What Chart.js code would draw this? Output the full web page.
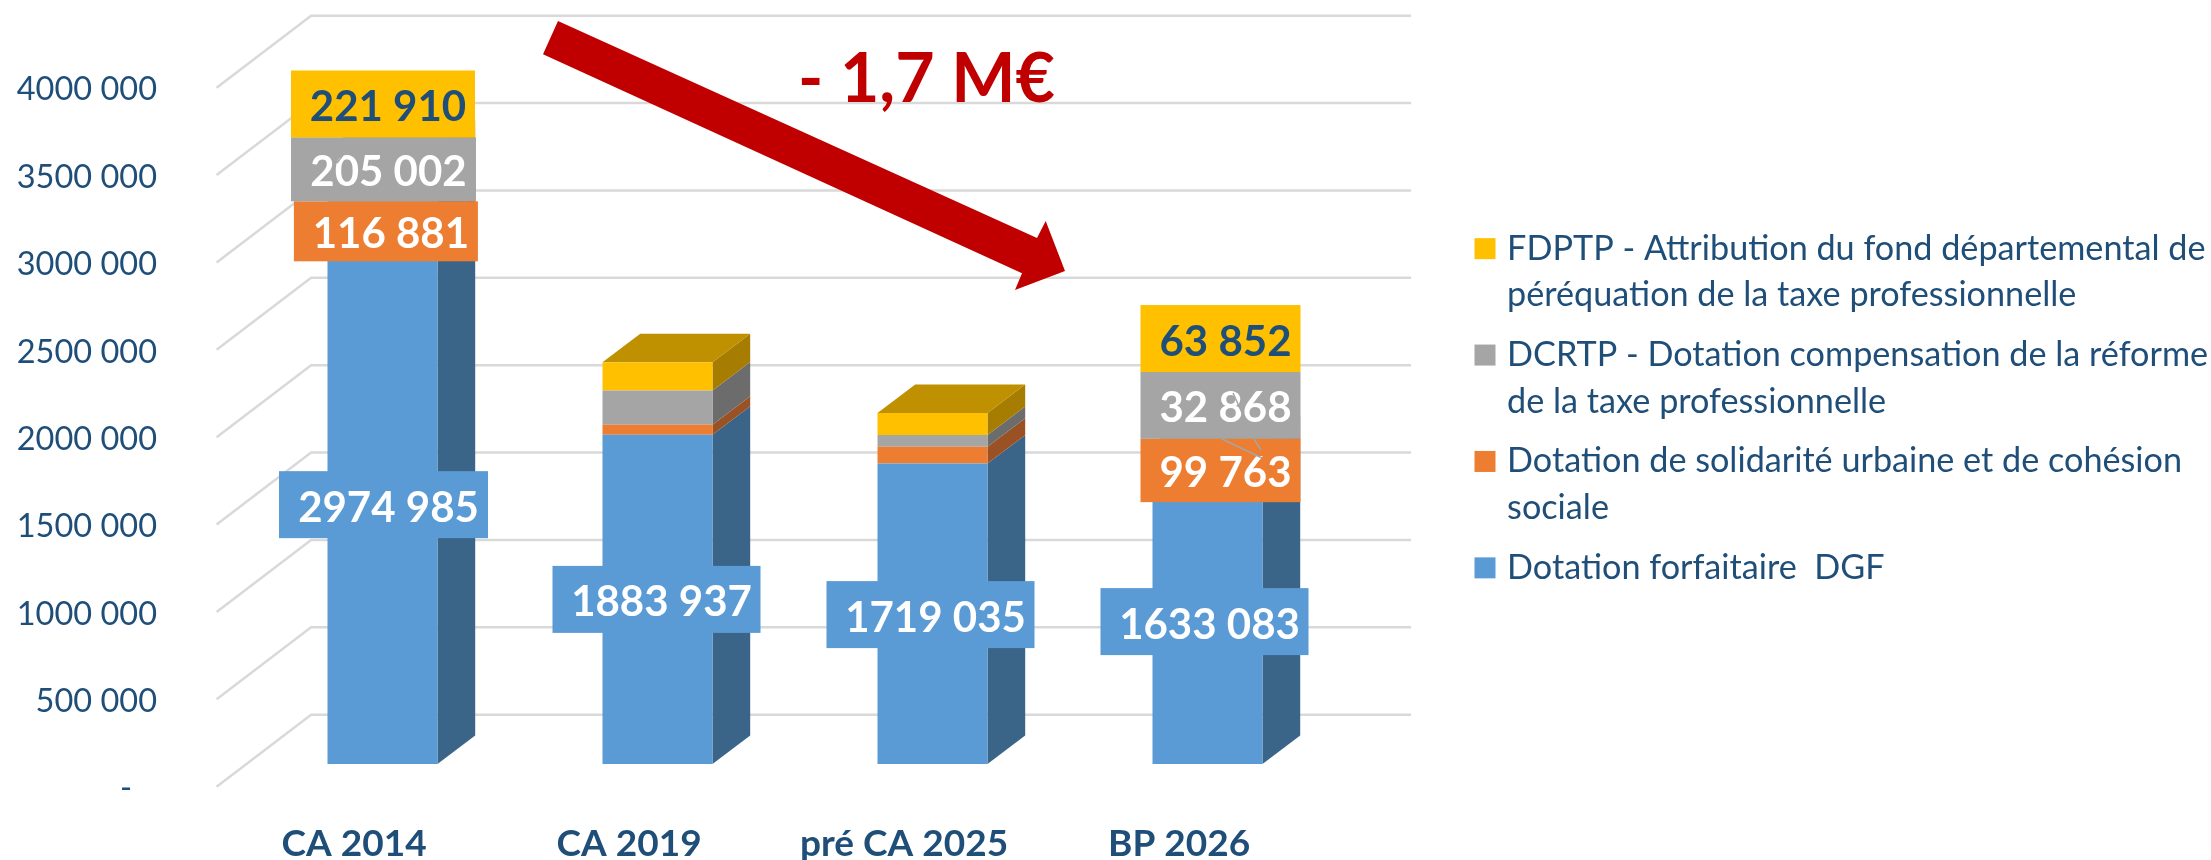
<!DOCTYPE html>
<html lang="fr">
<head>
    <meta charset="UTF-8">
    <title>Dotations</title>
    <style>
        html, body { margin: 0; padding: 0; background: #fff; }
        canvas { display: block; }
    </style>
</head>
<body>
    <canvas id="chart" width="2211" height="860"></canvas>
    <script src="https://cdn.jsdelivr.net/npm/chart.js"></script>
    <script>
        // Data
        const categories = ['CA 2014', 'CA 2019', 'pré CA 2025', 'BP 2026'];
        const tickLabels = ['-', '500 000', '1000 000', '1500 000', '2000 000', '2500 000', '3000 000', '3500 000', '4000 000'];
        const forfaitaire = [2974985, 1883937, 1719035, 1633083];
        const solidarite = [116881, 57000, 97000, 99763];
        const dcrtp = [205002, 196000, 66000, 32868];
        const fdptp = [221910, 162000, 127000, 63852];
        const forfaitaireName = ['Dotation forfaitaire  DGF'];
        const solidariteName = ['Dotation de solidarité urbaine et de cohésion', 'sociale'];
        const dcrtpName = ['DCRTP - Dotation compensation de la réforme', 'de la taxe professionnelle'];
        const fdptpName = ['FDPTP - Attribution du fond départemental de', 'péréquation de la taxe professionnelle'];

        const NAVY = '#1F4E79';
        const FONT = 'Lato';
        const GRID = '#D9D9D9';

        // 3D look: depth of the bars, and where the walls sit around the bars' plane
        const barDepth = { x: 37.7, y: 28.5 };
        const wallFront = { x: -28.4, y: 22.7 };
        const wallBack = { x: 66.1, y: -49.3 };
        const faceColors = ['#3A6589', '#9A5123', '#6C6C6C', '#A67D00'];
        const topColor = '#BF9000';

        // Boxed value labels, moved by hand from the centre of their segment
        const valueLabels = [
            { ds: 0, i: 0, dx: 1, dy: 0.6, w: 209, h: 67, color: '#fff' },
            { ds: 1, i: 0, dx: 3.4, dy: -2.6, w: 184, h: 60, color: '#fff' },
            { ds: 2, i: 0, dx: 1, dy: -36.5, w: 185, h: 64, color: '#fff' },
            { ds: 3, i: 0, dx: 0.5, dy: -64.5, w: 184, h: 67, color: NAVY },
            { ds: 0, i: 1, dx: -1, dy: 0, w: 208, h: 67, color: '#fff' },
            { ds: 0, i: 2, dx: -2, dy: 0.8, w: 208, h: 67, color: '#fff' },
            { ds: 0, i: 3, dx: -3, dy: 0.3, w: 208, h: 67, color: '#fff' },
            { ds: 1, i: 3, dx: 13, dy: 0.5, w: 160, h: 63.5, color: '#fff' },
            { ds: 2, i: 3, dx: 13, dy: -53, w: 160, h: 67, color: '#fff' },
            { ds: 3, i: 3, dx: 13, dy: -111.3, w: 160, h: 67, color: NAVY }
        ];

        // Thin leader lines left over on the labels
        const leaders = [
            [343, 155, 337, 163],
            [1233, 393, 1243, 415],
            [1222, 439, 1262, 458],
            [1254, 439, 1261, 450]
        ];
        const arrow = [[558, 21], [1037, 238], [1045.7, 221], [1065, 271], [1015, 290], [1022, 273.3], [543, 54.3]];

        function formatValue(v) {
            const s = String(v);
            return s.slice(0, -3) + ' ' + s.slice(-3);
        }

        // Walls and bar sides, under the bars
        const walls3d = {
            id: 'walls3d',
            beforeDatasetsDraw(chart) {
                const { ctx, chartArea } = chart;
                const yScale = chart.scales.y;
                ctx.save();
                ctx.strokeStyle = GRID;
                ctx.lineWidth = 2.5;
                yScale.ticks.forEach(t => {
                    const py = yScale.getPixelForValue(t.value);
                    ctx.beginPath();
                    ctx.moveTo(chartArea.left + wallFront.x, py + wallFront.y);
                    ctx.lineTo(chartArea.left + wallBack.x, py + wallBack.y);
                    ctx.lineTo(chartArea.right + wallBack.x, py + wallBack.y);
                    ctx.stroke();
                });
                const last = chart.data.datasets.length - 1;
                chart.data.datasets.forEach((d, ds) => {
                    chart.getDatasetMeta(ds).data.forEach(el => {
                        const r = el.x + el.width / 2;
                        const l = el.x - el.width / 2;
                        ctx.fillStyle = faceColors[ds];
                        ctx.beginPath();
                        ctx.moveTo(r, el.y);
                        ctx.lineTo(r + barDepth.x, el.y - barDepth.y);
                        ctx.lineTo(r + barDepth.x, el.base - barDepth.y);
                        ctx.lineTo(r, el.base);
                        ctx.closePath();
                        ctx.fill();
                        if (ds === last) {
                            ctx.fillStyle = topColor;
                            ctx.beginPath();
                            ctx.moveTo(l, el.y);
                            ctx.lineTo(l + barDepth.x, el.y - barDepth.y);
                            ctx.lineTo(r + barDepth.x, el.y - barDepth.y);
                            ctx.lineTo(r, el.y);
                            ctx.closePath();
                            ctx.fill();
                        }
                    });
                });
                ctx.restore();
            }
        };

        // Value labels, arrow and the "- 1,7 M€" note, over the bars
        const overlays = {
            id: 'overlays',
            afterDatasetsDraw(chart) {
                const { ctx } = chart;
                ctx.save();
                ctx.textAlign = 'center';
                ctx.textBaseline = 'middle';
                ctx.font = 'bold 42px ' + FONT;
                valueLabels.forEach(lb => {
                    const el = chart.getDatasetMeta(lb.ds).data[lb.i];
                    const cx = el.x + lb.dx;
                    const cy = (el.y + el.base) / 2 + lb.dy;
                    ctx.fillStyle = chart.data.datasets[lb.ds].backgroundColor;
                    ctx.fillRect(cx - lb.w / 2, cy - lb.h / 2, lb.w, lb.h);
                    ctx.fillStyle = lb.color;
                    ctx.fillText(formatValue(chart.data.datasets[lb.ds].data[lb.i]), cx + 5, cy + 3.5);
                });
                ctx.strokeStyle = '#A5A5A5';
                ctx.lineWidth = 1.5;
                leaders.forEach(p => {
                    ctx.beginPath();
                    ctx.moveTo(p[0], p[1]);
                    ctx.lineTo(p[2], p[3]);
                    ctx.stroke();
                });
                ctx.fillStyle = '#C00000';
                ctx.beginPath();
                arrow.forEach((p, n) => n ? ctx.lineTo(p[0], p[1]) : ctx.moveTo(p[0], p[1]));
                ctx.closePath();
                ctx.fill();
                ctx.font = 'bold 68px ' + FONT;
                ctx.textAlign = 'left';
                ctx.textBaseline = 'alphabetic';
                ctx.fillText('- 1,7 M€', 798, 102);
                ctx.restore();
            }
        };

        function noPadding(s) {
            s.paddingTop = s.paddingBottom = s.paddingLeft = s.paddingRight = 0;
        }

        new Chart(document.getElementById('chart').getContext('2d'), {
            type: 'bar',
            data: {
                labels: categories,
                datasets: [
                    { label: forfaitaireName.join(' '), lines: forfaitaireName, data: forfaitaire, backgroundColor: '#5B9BD5' },
                    { label: solidariteName.join(' '), lines: solidariteName, data: solidarite, backgroundColor: '#ED7D31' },
                    { label: dcrtpName.join(' '), lines: dcrtpName, data: dcrtp, backgroundColor: '#A5A5A5' },
                    { label: fdptpName.join(' '), lines: fdptpName, data: fdptp, backgroundColor: '#FFC000' }
                ]
            },
            plugins: [walls3d, overlays],
            options: {
                responsive: false,
                animation: false,
                barPercentage: 0.4,
                categoryPercentage: 1,
                layout: { padding: { top: 65 } },
                plugins: {
                    tooltip: { enabled: false },
                    legend: {
                        position: 'right',
                        reverse: true,
                        fullSize: false,
                        maxWidth: 744,
                        labels: {
                            color: NAVY,
                            font: { family: FONT, size: 34.2, lineHeight: 46.7 / 34.2 },
                            boxWidth: 10,
                            boxHeight: 10,
                            padding: 13,
                            textAlign: 'left',
                            generateLabels(chart) {
                                const items = Chart.defaults.plugins.legend.labels.generateLabels(chart);
                                items.forEach(it => {
                                    it.text = chart.data.datasets[it.datasetIndex].lines;
                                    it.strokeStyle = it.fillStyle;
                                    it.lineWidth = 11;
                                });
                                return items;
                            }
                        }
                    }
                },
                scales: {
                    x: {
                        stacked: true,
                        afterFit(s) { s.height = 96; noPadding(s); },
                        grid: { display: false, drawTicks: false },
                        border: { display: false },
                        ticks: {
                            color: NAVY,
                            font: { family: FONT, size: 37, weight: 'bold' },
                            padding: 58,
                            labelOffset: -28.4,
                            maxRotation: 0,
                            autoSkip: false
                        }
                    },
                    y: {
                        stacked: true,
                        min: 0,
                        max: 4000000,
                        afterFit(s) { s.width = 245; noPadding(s); },
                        grid: { display: false, drawTicks: false },
                        border: { display: false },
                        ticks: {
                            stepSize: 500000,
                            color: NAVY,
                            font: { family: FONT, size: 32.5 },
                            padding: 88,
                            labelOffset: 25,
                            callback(v, i) { return i === 0 ? tickLabels[0] + '   ' : tickLabels[i]; }
                        }
                    },
                    spacer: {
                        position: 'right',
                        afterFit(s) { s.width = 122; noPadding(s); },
                        grid: { display: false, drawTicks: false },
                        border: { display: false },
                        ticks: { display: false }
                    }
                }
            }
        });
    </script>
</body>
</html>
